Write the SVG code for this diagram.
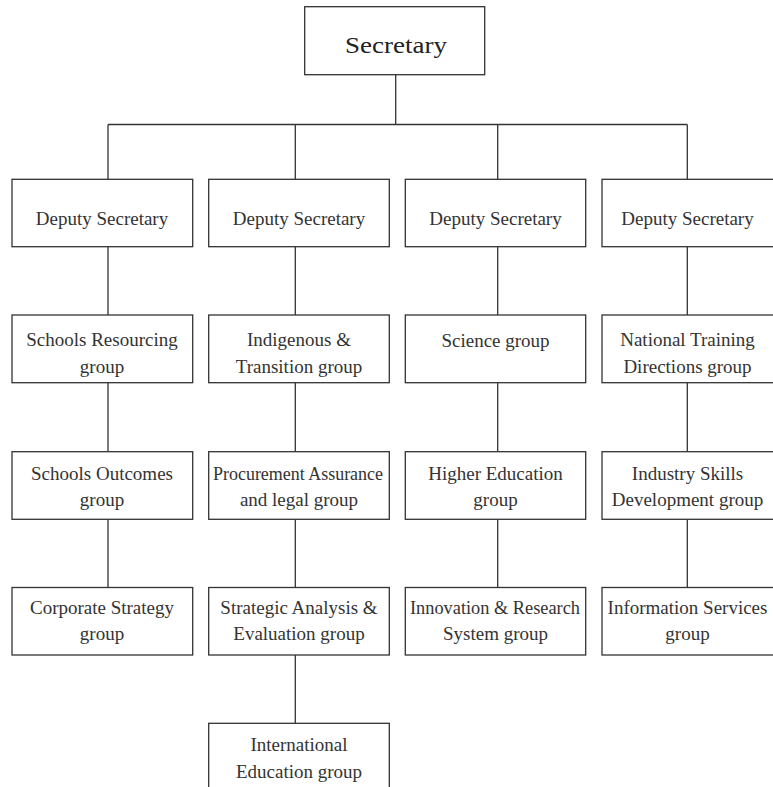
<svg xmlns="http://www.w3.org/2000/svg" width="773" height="787" viewBox="0 0 773 787">
<style>
.box{fill:#fff;stroke:#333;stroke-width:1.3}
.ln{fill:none;stroke:#333;stroke-width:1.3}
text{font-family:"Liberation Serif","Times New Roman",serif;font-size:19px;fill:#333;text-anchor:middle}
.top{font-size:24px;fill:#222}
</style>
<rect width="773" height="787" fill="#fff"/>
<g id="connectors">
<path class="ln" d="M395.7 74.7V124.5M108 124.5H687.3M108 124.5V179.3M295.3 124.5V179.3M497.7 124.5V179.3M687.3 124.5V179.3"/>
<path class="ln" d="M108 246.7V315M108 382.7V451.7M108 519.3V587.5"/>
<path class="ln" d="M295.3 246.7V315M295.3 382.7V451.7M295.3 519.3V587.5M295.3 655V723.3"/>
<path class="ln" d="M497.7 246.7V315M497.7 382.7V451.7M497.7 519.3V587.5"/>
<path class="ln" d="M687.3 246.7V315M687.3 382.7V451.7M687.3 519.3V587.5"/>
</g>
<g id="secretary"><rect class="box" x="304.7" y="6.7" width="180" height="68"/><text class="top" x="396" y="53.3" textLength="102" lengthAdjust="spacingAndGlyphs">Secretary</text></g>

<g id="c1r1"><rect class="box" x="12" y="179.3" width="180.7" height="67.4"/><text x="102" y="225">Deputy Secretary</text></g>
<g id="c1r2"><rect class="box" x="12" y="315" width="180.7" height="67.7"/><text x="102" y="346">Schools Resourcing</text><text x="102" y="372.5">group</text></g>
<g id="c1r3"><rect class="box" x="12" y="451.7" width="180.7" height="67.6"/><text x="102" y="479.5">Schools Outcomes</text><text x="102" y="506">group</text></g>
<g id="c1r4"><rect class="box" x="12" y="587.5" width="180.7" height="67.5"/><text x="102" y="613.5">Corporate Strategy</text><text x="102" y="639.5">group</text></g>

<g id="c2r1"><rect class="box" x="208.7" y="179.3" width="180.6" height="67.4"/><text x="299" y="225">Deputy Secretary</text></g>
<g id="c2r2"><rect class="box" x="208.7" y="315" width="180.6" height="67.7"/><text x="299" y="346">Indigenous &amp;</text><text x="299" y="372.5">Transition group</text></g>
<g id="c2r3"><rect class="box" x="208.7" y="451.7" width="180.6" height="67.6"/><text x="298" y="479.5" textLength="170" lengthAdjust="spacingAndGlyphs">Procurement Assurance</text><text x="299" y="506">and legal group</text></g>
<g id="c2r4"><rect class="box" x="208.7" y="587.5" width="180.6" height="67.5"/><text x="299" y="613.5">Strategic Analysis &amp;</text><text x="299" y="639.5">Evaluation group</text></g>
<g id="c2r5"><rect class="box" x="208.7" y="723.3" width="180.6" height="68"/><text x="299" y="751">International</text><text x="299" y="777.5">Education group</text></g>

<g id="c3r1"><rect class="box" x="405.3" y="179.3" width="180.4" height="67.4"/><text x="495.5" y="225">Deputy Secretary</text></g>
<g id="c3r2"><rect class="box" x="405.3" y="315" width="180.4" height="67.7"/><text x="495.5" y="347">Science group</text></g>
<g id="c3r3"><rect class="box" x="405.3" y="451.7" width="180.4" height="67.6"/><text x="495.5" y="479.5">Higher Education</text><text x="495.5" y="506">group</text></g>
<g id="c3r4"><rect class="box" x="405.3" y="587.5" width="180.4" height="67.5"/><text x="495" y="613.5" textLength="170" lengthAdjust="spacingAndGlyphs">Innovation &amp; Research</text><text x="495.5" y="639.5">System group</text></g>

<g id="c4r1"><rect class="box" x="602" y="179.3" width="180" height="67.4"/><text x="687.5" y="225">Deputy Secretary</text></g>
<g id="c4r2"><rect class="box" x="602" y="315" width="180" height="67.7"/><text x="687.5" y="346">National Training</text><text x="687.5" y="372.5">Directions group</text></g>
<g id="c4r3"><rect class="box" x="602" y="451.7" width="180" height="67.6"/><text x="687.5" y="479.5">Industry Skills</text><text x="687.5" y="506">Development group</text></g>
<g id="c4r4"><rect class="box" x="602" y="587.5" width="180" height="67.5"/><text x="687.5" y="613.5">Information Services</text><text x="687.5" y="639.5">group</text></g>
</svg>
